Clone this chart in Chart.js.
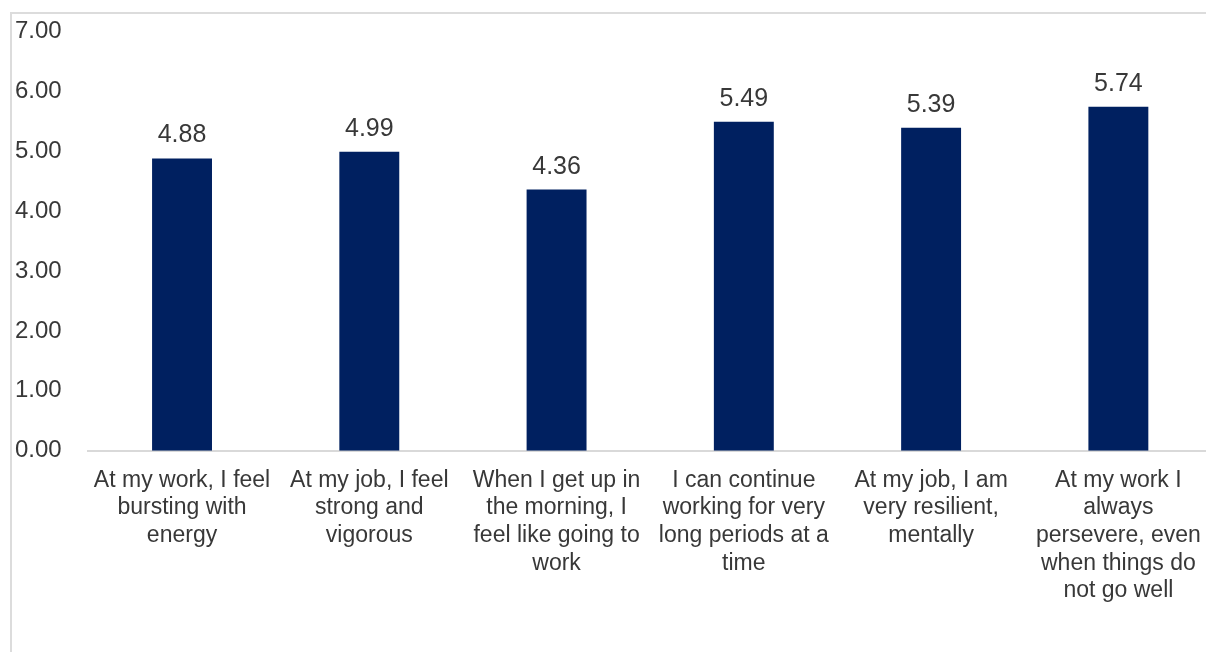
<!DOCTYPE html>
<html>
<head>
<meta charset="utf-8">
<script src="https://cdn.jsdelivr.net/npm/chart.js@4.4.1/dist/chart.umd.min.js"></script>
<style>
  html, body { margin: 0; padding: 0; background: #ffffff; overflow: hidden; }
  body { width: 1206px; height: 652px; position: relative; }
  #frame {
    position: absolute; left: 10px; top: 12px; width: 1210px; height: 660px;
    border-left: 2px solid #dcdcdc; border-top: 2px solid #dcdcdc;
  }
  #wrap { position: absolute; left: 12px; top: 14px; width: 1200px; height: 638px; }
</style>
</head>
<body>
<div id="frame"></div>
<div id="wrap"><canvas id="chart"></canvas></div>
<script>
// Survey items (wrapped as they appear under the axis)
const categories = [
  ["At my work, I feel", "bursting with", "energy"],
  ["At my job, I feel", "strong and", "vigorous"],
  ["When I get up in", "the morning, I", "feel like going to", "work"],
  ["I can continue", "working for very", "long periods at a", "time"],
  ["At my job, I am", "very resilient,", "mentally"],
  ["At my work I", "always", "persevere, even", "when things do", "not go well"]
];
// Mean scores per item
const meanScores = [4.88, 4.99, 4.36, 5.49, 5.39, 5.74];
// Value axis ticks
const yTicks = [0, 1, 2, 3, 4, 5, 6, 7];

const textColor = '#383838';
const fontFamily = '"Liberation Sans", Arial, sans-serif';

// Writes each bar's value above it
const valueLabels = {
  id: 'valueLabels',
  afterDatasetsDraw(chart) {
    const ctx = chart.ctx;
    const meta = chart.getDatasetMeta(0);
    ctx.save();
    ctx.fillStyle = textColor;
    ctx.font = '25px ' + fontFamily;
    ctx.textAlign = 'center';
    ctx.textBaseline = 'alphabetic';
    meta.data.forEach((bar, i) => {
      const v = chart.data.datasets[0].data[i];
      ctx.fillText(v.toFixed(2), bar.x, bar.y - 16);
    });
    ctx.restore();
  }
};

new Chart(document.getElementById('chart'), {
  type: 'bar',
  data: {
    labels: categories,
    datasets: [{
      data: meanScores,
      backgroundColor: '#002060',
      borderWidth: 0,
      categoryPercentage: 1.0,
      barPercentage: 0.32
    }]
  },
  options: {
    responsive: true,
    maintainAspectRatio: false,
    animation: false,
    devicePixelRatio: 1,
    layout: { padding: { left: 3, top: 14.5, right: 0, bottom: 0 } },
    plugins: { legend: { display: false }, tooltip: { enabled: false } },
    scales: {
      x: {
        grid: { display: false, drawTicks: false },
        border: { display: true, color: '#d9d9d9', width: 2 },
        ticks: {
          color: textColor,
          font: { size: 23, family: fontFamily, lineHeight: 1.2 },
          padding: 16,
          maxRotation: 0,
          autoSkip: false
        },
        afterFit(scale) {
          scale.height = 201.3;
          // plot area runs to the canvas edge; labels fit inside their slots
          scale.paddingLeft = 0;
          scale.paddingRight = 0;
        }
      },
      y: {
        min: 0,
        max: 7,
        grid: { display: false, drawTicks: false },
        border: { display: false },
        afterBuildTicks(scale) { scale.ticks = yTicks.map(v => ({ value: v })); },
        ticks: {
          color: textColor,
          font: { size: 24, family: fontFamily },
          crossAlign: 'far',
          callback: v => Number(v).toFixed(2)
        },
        afterFit(scale) { scale.width = 73.4; }
      }
    }
  },
  plugins: [valueLabels]
});
</script>
</body>
</html>
